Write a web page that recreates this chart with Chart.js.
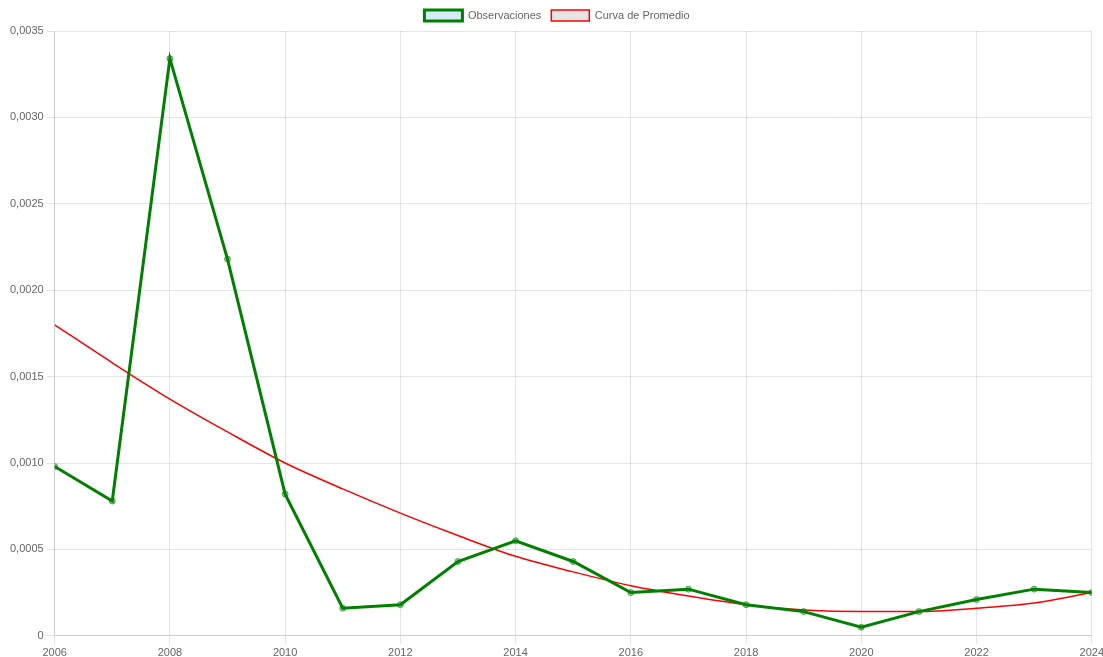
<!DOCTYPE html>
<html>
<head>
<meta charset="utf-8">
<script src="https://cdn.jsdelivr.net/npm/chart.js@4/dist/chart.umd.min.js"></script>
<style>
  html, body { margin: 0; padding: 0; background: #fff; overflow: hidden; }
  #wrap { width: 1107px; height: 663px; }
</style>
</head>
<body>
<div id="wrap"><canvas id="myChart"></canvas></div>
<script>
const years = [2006, 2007, 2008, 2009, 2010, 2011, 2012, 2013, 2014, 2015,
  2016, 2017, 2018, 2019, 2020, 2021, 2022, 2023, 2024];
const observaciones = [0.00098, 0.00078, 0.00334, 0.00218, 0.00082, 0.00016, 0.00018, 0.00043, 0.00055, 0.00043,
  0.00025, 0.00027, 0.00018, 0.00014, 0.00005, 0.00014, 0.00021, 0.00027, 0.00025];
const promedio = [0.00180, 0.00158, 0.00137, 0.00118, 0.00100, 0.00085, 0.00071, 0.00058, 0.00046, 0.00037,
  0.00029, 0.00023, 0.00018, 0.00015, 0.00014, 0.00014, 0.00016, 0.00019, 0.00025];

Chart.defaults.font.family = "Arial, 'Liberation Sans', Helvetica, sans-serif";
Chart.defaults.font.size = 11;

const ctx = document.getElementById("myChart").getContext("2d");
let myChart = new Chart(ctx, {
  type: "line",
  data: {
    datasets: [{
      label: "Observaciones",
      data: years.map((y, i) => ({ x: y, y: observaciones[i] })),
      backgroundColor: "rgba(54, 162, 235, 0.2)",
      borderColor: "green",
      borderWidth: 3,
      pointRadius: 3,
      pointBorderWidth: 1,
      pointBackgroundColor: "rgba(0, 128, 0, 0.4)",
      pointBorderColor: "rgba(0, 128, 0, 0.6)",
      tension: 0,
    }, {
      label: "Curva de Promedio",
      data: years.map((y, i) => ({ x: y, y: promedio[i] })),
      backgroundColor: "rgba(0, 0, 0, 0.1)",
      borderColor: "red",
      borderWidth: 1.5,
      pointRadius: 0,
      cubicInterpolationMode: "monotone",
    }],
  },
  options: {
    responsive: true,
    maintainAspectRatio: false,
    animation: false,
    layout: { padding: { left: 7 } },
    plugins: {
      legend: { position: "top", labels: { boxWidth: 38, boxHeight: 11 } },
      tooltip: { enabled: false },
    },
    scales: {
      x: {
        type: "linear",
        min: 2006,
        max: 2024,
        ticks: {
          stepSize: 2,
          callback: (v) => String(v),
        },
      },
      y: {
        min: 0,
        max: 0.0035,
        ticks: {
          stepSize: 0.0005,
          callback: (v) => v === 0 ? "0" : v.toFixed(4).replace(".", ","),
        },
      },
    },
  },
});
</script>
</body>
</html>
